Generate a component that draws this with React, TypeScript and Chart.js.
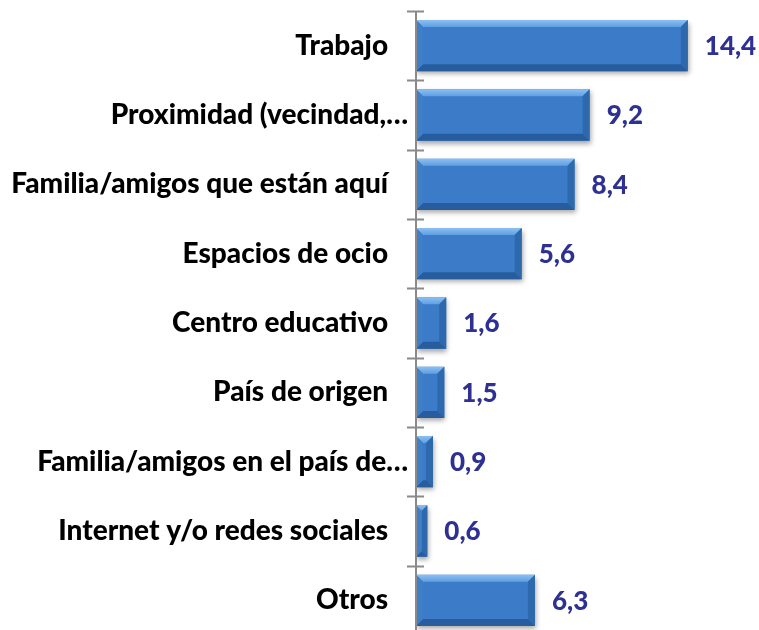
import React, { useEffect, useRef } from "react";
import { Chart, registerables } from "chart.js";

Chart.register(...registerables);

const categories = [
  "Trabajo   ",
  "Proximidad (vecindad,…",
  "Familia/amigos que están aquí   ",
  "Espacios de ocio   ",
  "Centro educativo   ",
  "País de origen   ",
  "Familia/amigos en el país de…",
  "Internet y/o redes sociales   ",
  "Otros   ",
];
const values = [14.4, 9.2, 8.4, 5.6, 1.6, 1.5, 0.9, 0.6, 6.3];
const valueLabels = ["14,4", "9,2", "8,4", "5,6", "1,6", "1,5", "0,9", "0,6", "6,3"];

const FONT = "Lato, 'Open Sans', sans-serif";
const LABEL_SIZE = 28;
const VALUE_SIZE = 26;

export default function App() {
  const ref = useRef<HTMLCanvasElement | null>(null);

  useEffect(() => {
    document.body.style.margin = "0";
    const canvas = ref.current!;

    const axisPlugin = {
      id: "axisTicks",
      afterDraw(chart: any) {
        const { ctx, chartArea } = chart;
        const y = chart.scales.y;
        ctx.save();
        ctx.strokeStyle = "#8a8a8a";
        ctx.lineWidth = 2;
        ctx.beginPath();
        ctx.moveTo(chartArea.left, chartArea.top);
        ctx.lineTo(chartArea.left, chartArea.bottom);
        for (let i = 0; i <= categories.length; i++) {
          const py = Math.round(y.getPixelForValue(i - 0.5)) + 0.5;
          ctx.moveTo(chartArea.left - 9, py);
          ctx.lineTo(chartArea.left + 8, py);
        }
        ctx.stroke();
        ctx.restore();
      },
    };

    const barStylePlugin = {
      id: "barStyle",
      beforeDatasetsDraw(chart: any) {
        const ctx = chart.ctx;
        ctx.save();
        ctx.shadowColor = "rgba(0,0,0,0.35)";
        ctx.shadowBlur = 5;
        ctx.shadowOffsetX = 1;
        ctx.shadowOffsetY = 3;
      },
      afterDatasetsDraw(chart: any) {
        const ctx = chart.ctx;
        ctx.restore();
        const meta = chart.getDatasetMeta(0);
        ctx.save();
        meta.data.forEach((bar: any, i: number) => {
          const left = bar.base;
          const right = bar.x;
          const top = bar.y - bar.height / 2;
          const bottom = bar.y + bar.height / 2;
          const b = Math.min(7, (right - left) / 2);
          const gTop = ctx.createLinearGradient(0, top, 0, top + b);
          gTop.addColorStop(0, "#8cc0f2");
          gTop.addColorStop(1, "#5f9fe3");
          ctx.fillStyle = gTop;
          ctx.beginPath();
          ctx.moveTo(left, top);
          ctx.lineTo(right, top);
          ctx.lineTo(right - b, top + b);
          ctx.lineTo(left + b, top + b);
          ctx.closePath();
          ctx.fill();
          ctx.fillStyle = "#2f69ad";
          ctx.beginPath();
          ctx.moveTo(right, top);
          ctx.lineTo(right, bottom);
          ctx.lineTo(right - b, bottom - b);
          ctx.lineTo(right - b, top + b);
          ctx.closePath();
          ctx.fill();
          ctx.fillStyle = "#275d9c";
          ctx.beginPath();
          ctx.moveTo(left, bottom);
          ctx.lineTo(right, bottom);
          ctx.lineTo(right - b, bottom - b);
          ctx.lineTo(left + b, bottom - b);
          ctx.closePath();
          ctx.fill();
          ctx.fillStyle = "#3f7fca";
          ctx.beginPath();
          ctx.moveTo(left, top);
          ctx.lineTo(left + b, top + b);
          ctx.lineTo(left + b, bottom - b);
          ctx.lineTo(left, bottom);
          ctx.closePath();
          ctx.fill();

          ctx.fillStyle = "#2e3192";
          ctx.font = `900 ${VALUE_SIZE}px ${FONT}`;
          ctx.textAlign = "left";
          ctx.textBaseline = "middle";
          ctx.fillText(valueLabels[i], right + 17, bar.y + 1);
        });
        ctx.restore();
      },
    };

    const chart = new Chart(canvas, {
      type: "bar",
      data: {
        labels: categories,
        datasets: [
          {
            data: values,
            backgroundColor: (c: any) => {
              const el = c.element;
              const chartCtx = c.chart.ctx;
              if (!el || el.height === undefined) return "#3b7bc8";
              const top = el.y - el.height / 2;
              const bottom = el.y + el.height / 2;
              if (!isFinite(top) || !isFinite(bottom)) return "#3b7bc8";
              const g = chartCtx.createLinearGradient(0, top, 0, bottom);
              g.addColorStop(0, "#4f90dc");
              g.addColorStop(0.5, "#3c7cc9");
              g.addColorStop(1, "#3470ba");
              return g;
            },
            borderWidth: 0,
            categoryPercentage: 1,
            barPercentage: 0.74,
          },
        ],
      },
      options: {
        indexAxis: "y",
        animation: false,
        responsive: false,
        maintainAspectRatio: false,
        layout: { padding: { top: 11, right: 41, bottom: 5, left: 0 } },
        plugins: {
          legend: { display: false },
          tooltip: { enabled: false },
        },
        scales: {
          x: { display: false, min: 0, max: 16 },
          y: {
            grid: { display: false, drawTicks: false },
            border: { display: false },
            ticks: {
              color: "#000000",
              padding: 8,
              autoSkip: false,
              font: { family: FONT, size: LABEL_SIZE, weight: "900" },
            },
            afterFit(scale: any) {
              scale.width = 416;
              scale.paddingTop = 0;
              scale.paddingBottom = 0;
            },
          },
        },
      },
      plugins: [barStylePlugin, axisPlugin],
    } as any);

    return () => chart.destroy();
  }, []);

  return (
    <div style={{ width: 759, height: 640, background: "#ffffff" }}>
      <canvas ref={ref} width={759} height={640} style={{ display: "block" }} />
    </div>
  );
}
